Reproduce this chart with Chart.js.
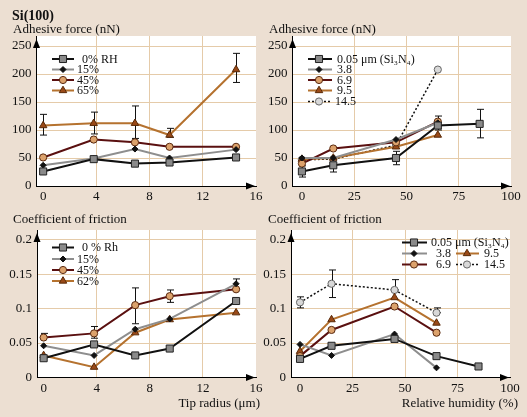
<!DOCTYPE html>
<html>
<head>
<meta charset="utf-8">
<script src="https://cdn.jsdelivr.net/npm/chart.js@4.4.0/dist/chart.umd.min.js"></script>
<style>
  body { margin: 0; background: #ecdfd2; }
  #wrap { position: relative; width: 527px; height: 417px; overflow: hidden; }
  canvas { position: absolute; left: 0; top: 0; }
  .t { position: absolute; font-family: "Liberation Serif", "DejaVu Serif", serif; font-size: 13px; line-height: 15px; color: #111; white-space: nowrap; }
</style>
</head>
<body>
<div id="wrap">
  <canvas id="c1" width="527" height="417"></canvas>
  <canvas id="c2" width="527" height="417"></canvas>
  <canvas id="c3" width="527" height="417"></canvas>
  <canvas id="c4" width="527" height="417"></canvas>
  <div class="t" style="left:12px;top:8px;font-weight:bold;font-size:14px">Si(100)</div>
  <div class="t" style="left:13px;top:21px">Adhesive force (nN)</div>
  <div class="t" style="left:269px;top:21px">Adhesive force (nN)</div>
  <div class="t" style="left:13px;top:211px">Coefficient of friction</div>
  <div class="t" style="left:268px;top:211px">Coefficient of friction</div>
  <div class="t" style="right:267px;top:395px">Tip radius (μm)</div>
  <div class="t" style="right:9px;top:395px">Relative humidity (%)</div>
</div>
<script>
// -----------------------------
// DATA
// -----------------------------
const tipRadius = [0, 3.8, 6.9, 9.5, 14.5];
const humidity = [0, 15, 45, 65, 85];

const tipTicks = [0, 4, 8, 12, 16];
const rhTicks = [0, 25, 50, 75, 100];
const adhTicks = [0, 50, 100, 150, 200, 250];
const cofTicks = [0, 0.05, 0.1, 0.15, 0.2];

// adhesive force (nN) vs tip radius, one line per humidity
const adhTipRh0 = [26, 48, 40, 42, 51];
const adhTipRh15 = [37, 49, 66, 50, 65];
const adhTipRh45 = [51, 83, 78, 70, 70];
const adhTipRh65 = [108, 112, 112, 91, 208];
const adhTipErrLo = [91, 93, 85, 87, 185];
const adhTipErrHi = [128, 132, 143, 103, 237];

// adhesive force (nN) vs humidity, one line per tip radius
const adhRh005 = [26, 37, 50, 108, 111];
const adhRh38 = [50, 50, 83, 113];
const adhRh69 = [40, 67, 78, 115];
const adhRh95 = [48, 50, 70, 91];
const adhRh145 = [47, 48, 73, 208];
const adhRhErrLo = [16, 25, 38, 100, 86];
const adhRhErrHi = [36, 50, 62, 125, 137];

// coefficient of friction vs tip radius
const cofTipRh0 = [0.028, 0.048, 0.032, 0.042, 0.111];
const cofTipRh15 = [0.046, 0.032, 0.070, 0.085, 0.136];
const cofTipRh45 = [0.058, 0.064, 0.105, 0.118, 0.128];
const cofTipRh62 = [0.032, 0.015, 0.065, 0.084, 0.094];
const cofTipErrX = [0, 3.8, 6.9, 9.5, 14.5];
const cofTipErrLo = [0.058, 0.057, 0.078, 0.109, 0.129];
const cofTipErrHi = [0.064, 0.074, 0.130, 0.127, 0.143];

// coefficient of friction vs humidity
const cofRh005 = [0.027, 0.046, 0.056, 0.031, 0.016];
const cofRh38 = [0.048, 0.032, 0.063, 0.014];
const cofRh69 = [0.031, 0.069, 0.103, 0.065];
const cofRh95 = [0.038, 0.084, 0.116, 0.079];
const cofRh145 = [0.109, 0.136, 0.127, 0.094];
const cofRhErrLo = [0.101, 0.116, 0.127, 0.094];
const cofRhErrHi = [0.117, 0.156, 0.142, 0.101];

// -----------------------------
// STYLES
// -----------------------------
const W = 527, H = 417;
const FONT = "'Liberation Serif', 'DejaVu Serif', serif";
const GRID = '#e5cba9';

const black = { borderColor: '#111', borderWidth: 2, pointStyle: 'rect', pointRadius: 5,
  pointBackgroundColor: '#8a8a8a', pointBorderColor: '#222', pointBorderWidth: 1 };
const gray = { borderColor: '#8e8e8e', borderWidth: 2, pointStyle: 'rectRot', pointRadius: 3,
  pointBackgroundColor: '#111', pointBorderColor: '#111', pointBorderWidth: 1 };
const maroon = { borderColor: '#5a1010', borderWidth: 2, pointStyle: 'circle', pointRadius: 3.6,
  pointBackgroundColor: '#dca26c', pointBorderColor: '#5a2a10', pointBorderWidth: 1 };
const brown = { borderColor: '#b5722f', borderWidth: 2, pointStyle: 'triangle', pointRadius: 4.3,
  pointBackgroundColor: '#9a4a18', pointBorderColor: '#5a2a08', pointBorderWidth: 1 };
const dotted = { borderColor: '#111', borderWidth: 1.5, borderDash: [2, 2], pointStyle: 'circle', pointRadius: 3.6,
  pointBackgroundColor: '#d8d8d8', pointBorderColor: '#666', pointBorderWidth: 1 };

function pts(xs, ys) {
  return ys.map((y, i) => ({ x: xs[i], y }));
}

function marker(ctx, ds, x, y) {
  const r = ds.pointRadius;
  ctx.save();
  ctx.setLineDash([]);
  ctx.fillStyle = ds.pointBackgroundColor;
  ctx.strokeStyle = ds.pointBorderColor;
  ctx.lineWidth = ds.pointBorderWidth;
  ctx.beginPath();
  if (ds.pointStyle === 'rect') {
    const s = r * Math.SQRT1_2;
    ctx.rect(x - s, y - s, 2 * s, 2 * s);
  } else if (ds.pointStyle === 'rectRot') {
    ctx.moveTo(x, y - r); ctx.lineTo(x + r, y); ctx.lineTo(x, y + r); ctx.lineTo(x - r, y); ctx.closePath();
  } else if (ds.pointStyle === 'triangle') {
    ctx.moveTo(x, y - r); ctx.lineTo(x + r * 0.87, y + r * 0.5); ctx.lineTo(x - r * 0.87, y + r * 0.5); ctx.closePath();
  } else {
    ctx.arc(x, y, r, 0, Math.PI * 2);
  }
  ctx.fill();
  ctx.stroke();
  ctx.restore();
}

// white plot area, error bars, arrows and the in-plot legend
const panelPlugin = {
  id: 'panel',
  beforeDraw(chart) {
    const a = chart.chartArea, ctx = chart.ctx;
    ctx.save();
    ctx.fillStyle = '#ffffff';
    ctx.fillRect(a.left, a.top, a.right - a.left, a.bottom - a.top);
    ctx.restore();
  },
  beforeDatasetsDraw(chart, args, opts) {
    const ctx = chart.ctx, xs = chart.scales.x, ys = chart.scales.y;
    const e = opts.err;
    if (!e) return;
    ctx.save();
    ctx.strokeStyle = '#111';
    ctx.lineWidth = 1;
    e.x.forEach((xv, i) => {
      const px = Math.round(xs.getPixelForValue(xv)) + 0.5;
      const lo = ys.getPixelForValue(e.lo[i]), hi = ys.getPixelForValue(e.hi[i]);
      ctx.beginPath();
      ctx.moveTo(px, lo); ctx.lineTo(px, hi);
      ctx.moveTo(px - 3.5, lo); ctx.lineTo(px + 3.5, lo);
      ctx.moveTo(px - 3.5, hi); ctx.lineTo(px + 3.5, hi);
      ctx.stroke();
    });
    ctx.restore();
  },
  afterDraw(chart, args, opts) {
    const a = chart.chartArea, ctx = chart.ctx;
    ctx.save();
    ctx.fillStyle = '#000';
    ctx.beginPath();
    ctx.moveTo(a.left, a.top + 3); ctx.lineTo(a.left - 3.5, a.top + 12); ctx.lineTo(a.left + 3.5, a.top + 12);
    ctx.closePath(); ctx.fill();
    ctx.beginPath();
    ctx.moveTo(a.right - 1, a.bottom); ctx.lineTo(a.right - 10, a.bottom - 3.5); ctx.lineTo(a.right - 10, a.bottom + 3.5);
    ctx.closePath(); ctx.fill();

    ctx.font = '12px ' + FONT;
    ctx.textBaseline = 'middle';
    (opts.legend || []).forEach(it => {
      const ds = chart.data.datasets[it.ds];
      ctx.save();
      ctx.strokeStyle = ds.borderColor;
      ctx.lineWidth = ds.borderWidth;
      ctx.setLineDash(ds.borderDash || []);
      ctx.beginPath();
      ctx.moveTo(it.x1, it.y); ctx.lineTo(it.x2, it.y);
      ctx.stroke();
      ctx.restore();
      marker(ctx, ds, it.mx, it.y);
      ctx.fillStyle = '#111';
      ctx.fillText(it.text, it.tx, it.y + 0.5);
    });
    ctx.restore();
  }
};

function panel(id, cfg) {
  const a = cfg.area;
  const font = { family: FONT, size: 13 };
  const lastX = cfg.xTicks[cfg.xTicks.length - 1];
  new Chart(document.getElementById(id), {
    type: 'line',
    data: { datasets: cfg.series.map(s => Object.assign({}, s.style, { data: pts(s.xs, s.ys), tension: 0 })) },
    options: {
      responsive: false,
      animation: false,
      layout: { padding: { left: a.l - 30, top: a.t, right: W - a.r, bottom: H - a.b - 22 } },
      plugins: {
        legend: { display: false },
        tooltip: { enabled: false },
        panel: { legend: cfg.legend, err: cfg.err }
      },
      scales: {
        x: {
          type: 'linear', min: cfg.xMin, max: cfg.xMax,
          afterBuildTicks: sc => { sc.ticks = cfg.xTicks.map(v => ({ value: v })); },
          afterFit: sc => { sc.height = 22; },
          grid: { drawTicks: false, lineWidth: 1,
            color: c => (c.tick && (c.tick.value === 0 || c.tick.value === lastX)) ? 'rgba(0,0,0,0)' : GRID },
          border: { color: '#000', width: 1 },
          ticks: { padding: 3, color: '#111', font, maxRotation: 0, autoSkip: false }
        },
        y: {
          min: 0, max: cfg.yMax,
          afterBuildTicks: sc => { sc.ticks = cfg.yTicks.map(v => ({ value: v })); },
          afterFit: sc => { sc.width = 30; },
          grid: { drawTicks: false, lineWidth: 1,
            color: c => (c.tick && c.tick.value === 0) ? 'rgba(0,0,0,0)' : GRID },
          border: { color: '#000', width: 1 },
          ticks: { padding: 5, color: '#111', font, autoSkip: false, callback: v => String(v) }
        }
      }
    },
    plugins: [panelPlugin]
  });
}

// -----------------------------
// PANELS
// -----------------------------
panel('c1', {
  area: { l: 36.5, r: 256, t: 36, b: 186 }, xMin: -0.5, xMax: 16, yMax: 268,
  xTicks: tipTicks, yTicks: adhTicks,
  series: [
    { style: black, xs: tipRadius, ys: adhTipRh0 },
    { style: gray, xs: tipRadius, ys: adhTipRh15 },
    { style: maroon, xs: tipRadius, ys: adhTipRh45 },
    { style: brown, xs: tipRadius, ys: adhTipRh65 }
  ],
  err: { x: tipRadius, lo: adhTipErrLo, hi: adhTipErrHi },
  legend: [
    { ds: 0, x1: 52, x2: 74, mx: 63, tx: 82, y: 59, text: '0% RH' },
    { ds: 1, x1: 52, x2: 74, mx: 63, tx: 77, y: 69.5, text: '15%' },
    { ds: 2, x1: 52, x2: 74, mx: 63, tx: 77, y: 80, text: '45%' },
    { ds: 3, x1: 52, x2: 74, mx: 63, tx: 77, y: 90.5, text: '65%' }
  ]
});

panel('c2', {
  area: { l: 292.5, r: 511, t: 36, b: 186 }, xMin: -4.5, xMax: 100, yMax: 268,
  xTicks: rhTicks, yTicks: adhTicks,
  series: [
    { style: black, xs: humidity, ys: adhRh005 },
    { style: gray, xs: humidity, ys: adhRh38 },
    { style: maroon, xs: humidity, ys: adhRh69 },
    { style: brown, xs: humidity, ys: adhRh95 },
    { style: dotted, xs: humidity, ys: adhRh145 }
  ],
  err: { x: humidity, lo: adhRhErrLo, hi: adhRhErrHi },
  legend: [
    { ds: 0, x1: 308, x2: 332, mx: 319, tx: 337, y: 59, text: '0.05 μm (Si₃N₄)' },
    { ds: 1, x1: 308, x2: 332, mx: 319, tx: 337, y: 69.5, text: '3.8' },
    { ds: 2, x1: 308, x2: 332, mx: 319, tx: 337, y: 80, text: '6.9' },
    { ds: 3, x1: 308, x2: 332, mx: 319, tx: 337, y: 90.5, text: '9.5' },
    { ds: 4, x1: 308, x2: 332, mx: 319, tx: 335, y: 101.5, text: '14.5' }
  ]
});

panel('c3', {
  area: { l: 37, r: 256, t: 230, b: 377.5 }, xMin: -0.5, xMax: 16, yMax: 0.214,
  xTicks: tipTicks, yTicks: cofTicks,
  series: [
    { style: black, xs: tipRadius, ys: cofTipRh0 },
    { style: gray, xs: tipRadius, ys: cofTipRh15 },
    { style: maroon, xs: tipRadius, ys: cofTipRh45 },
    { style: brown, xs: tipRadius, ys: cofTipRh62 }
  ],
  err: { x: cofTipErrX, lo: cofTipErrLo, hi: cofTipErrHi },
  legend: [
    { ds: 0, x1: 52, x2: 74, mx: 63, tx: 82, y: 247.5, text: '0 % Rh' },
    { ds: 1, x1: 52, x2: 74, mx: 63, tx: 77, y: 259, text: '15%' },
    { ds: 2, x1: 52, x2: 74, mx: 63, tx: 77, y: 270, text: '45%' },
    { ds: 3, x1: 52, x2: 74, mx: 63, tx: 77, y: 281, text: '62%' }
  ]
});

panel('c4', {
  area: { l: 291, r: 510, t: 230, b: 377.5 }, xMin: -4.3, xMax: 100, yMax: 0.214,
  xTicks: rhTicks, yTicks: cofTicks,
  series: [
    { style: black, xs: humidity, ys: cofRh005 },
    { style: gray, xs: humidity, ys: cofRh38 },
    { style: maroon, xs: humidity, ys: cofRh69 },
    { style: brown, xs: humidity, ys: cofRh95 },
    { style: dotted, xs: humidity, ys: cofRh145 }
  ],
  err: { x: humidity.slice(0, 4), lo: cofRhErrLo, hi: cofRhErrHi },
  legend: [
    { ds: 0, x1: 402, x2: 427, mx: 414, tx: 431, y: 242.5, text: '0.05 μm (Si₃N₄)' },
    { ds: 1, x1: 402, x2: 427, mx: 414, tx: 436, y: 253.5, text: '3.8' },
    { ds: 3, x1: 456, x2: 479, mx: 467, tx: 484, y: 253.5, text: '9.5' },
    { ds: 2, x1: 402, x2: 427, mx: 414, tx: 436, y: 264.5, text: '6.9' },
    { ds: 4, x1: 456, x2: 479, mx: 467, tx: 484, y: 264.5, text: '14.5' }
  ]
});
</script>
</body>
</html>
